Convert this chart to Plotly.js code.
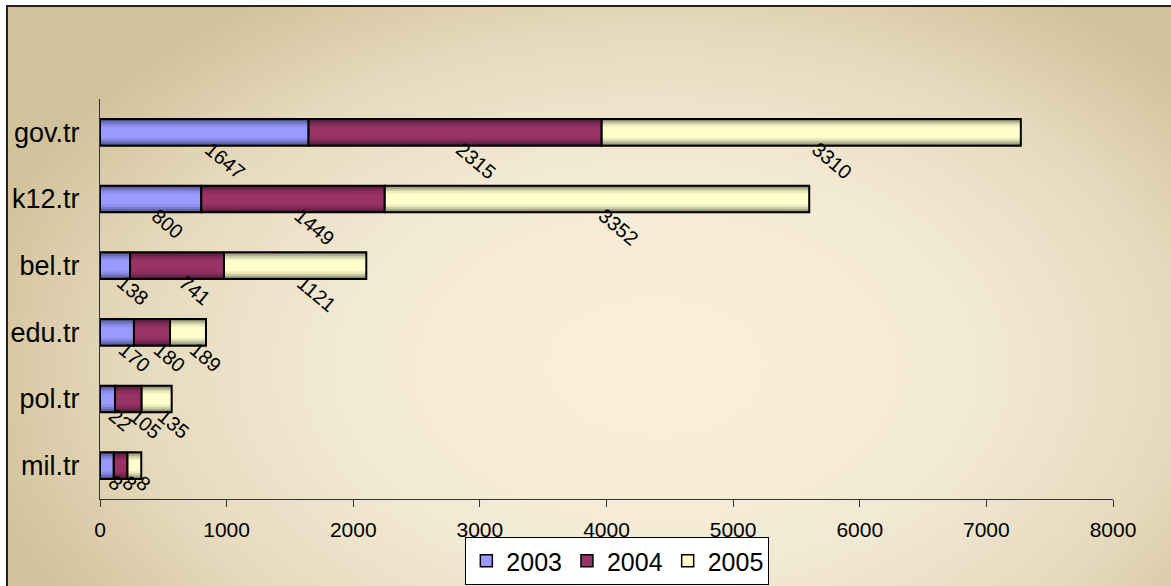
<!DOCTYPE html>
<html>
<head>
<meta charset="utf-8">
<script src="https://cdn.plot.ly/plotly-3.0.1.min.js"></script>
<style>
  html, body { margin: 0; padding: 0; background: #ffffff; overflow: hidden; }
  #wrap { position: relative; width: 1171px; height: 586px; overflow: hidden; background: #fff; }
  #bg {
    position: absolute; left: 6px; top: 5px; width: 1200px; height: 620px;
    border-left: 2px solid #222; border-top: 2px solid #222;
    background: radial-gradient(ellipse 58% 72% at 54% 58%, #fbefd9 0%, #f3ead6 45%, #e6dabd 75%, #d2c29c 100%);
  }
  #chart { position: absolute; left: 0; top: 0; width: 1171px; height: 586px; }
</style>
</head>
<body>
<div id="wrap">
  <div id="bg"></div>
  <div id="chart"></div>
</div>
<script>
// ---- data ----
const categories = ['gov.tr', 'k12.tr', 'bel.tr', 'edu.tr', 'pol.tr', 'mil.tr'];
const seriesNames = ['2003', '2004', '2005'];
// drawn bar lengths
const v2003 = [1647, 800, 238, 268, 119, 109];
const v2004 = [2315, 1449, 741, 285, 210, 108];
const v2005 = [3310, 3352, 1124, 284, 237, 109];
// data labels as printed on the chart
const lab2003 = ['1647', '800', '138', '170', '22', '8'];
const lab2004 = ['2315', '1449', '741', '180', '105', '8'];
const lab2005 = ['3310', '3352', '1121', '189', '135', '8'];
const xTickVals = [0, 1000, 2000, 3000, 4000, 5000, 6000, 7000, 8000];

// ---- styling ----
const baseColors = [[153, 153, 255], [153, 51, 102], [255, 255, 204]];
const layerWidths = [0.40, 0.35, 0.30, 0.24, 0.17];
const layerFactors = [0.50, 0.66, 0.80, 0.92, 1.00];
const FONT = 'Liberation Sans, Arial, sans-serif';

function rgb(c, f) {
  return 'rgb(' + c.map(v => Math.round(v * f)).join(',') + ')';
}

const values = [v2003, v2004, v2005];
const labels = [lab2003, lab2004, lab2005];

// cumulative bases
const bases = values.map((vals, s) =>
  vals.map((_, i) => values.slice(0, s).reduce((acc, arr) => acc + arr[i], 0)));

const traces = [];
// legend-only entries
seriesNames.forEach((name, s) => {
  traces.push({
    type: 'bar', orientation: 'h', x: [null], y: [categories[0]], name: name,
    marker: { color: rgb(baseColors[s], 1), line: { color: '#000', width: 1.5 } },
    showlegend: true, hoverinfo: 'skip', legendgroup: name
  });
});
// shaded bars
seriesNames.forEach((name, s) => {
  layerWidths.forEach((w, k) => {
    traces.push({
      type: 'bar', orientation: 'h', x: values[s], y: categories, base: bases[s],
      width: w, name: name, legendgroup: name, showlegend: false,
      marker: { color: rgb(baseColors[s], layerFactors[k]), line: { width: 0 } },
      hoverinfo: 'skip'
    });
  });
  // outline on top
  traces.push({
    type: 'bar', orientation: 'h', x: values[s], y: categories, base: bases[s],
    width: layerWidths[0], name: name, legendgroup: name, showlegend: false,
    marker: { color: 'rgba(0,0,0,0)', line: { color: '#000', width: 2 } },
    hoverinfo: 'skip'
  });
});

// rotated data labels
const LFS = 20, ANG = 40, rad = ANG * Math.PI / 180;
const annotations = [];
seriesNames.forEach((name, s) => {
  categories.forEach((cat, i) => {
    const txt = labels[s][i];
    const L = 0.556 * LFS * txt.length;
    const h = 0.716 * LFS;
    const dx = (L / 2) * Math.cos(rad) - (h / 2) * Math.sin(rad);
    const dy = (L / 2) * Math.sin(rad) + (h / 2) * Math.cos(rad);
    annotations.push({
      x: bases[s][i] + values[s][i] / 2, y: cat, xref: 'x', yref: 'y',
      text: txt, showarrow: false, textangle: ANG,
      xanchor: 'center', yanchor: 'middle',
      xshift: dx + 9, yshift: -(13.5 + dy) + 5,
      font: { family: FONT, size: LFS, color: '#000' }
    });
  });
});

const layout = {
  width: 1171, height: 586,
  paper_bgcolor: 'rgba(0,0,0,0)', plot_bgcolor: 'rgba(0,0,0,0)',
  margin: { l: 100, r: 58, t: 99, b: 87 },
  barmode: 'overlay',
  font: { family: FONT, color: '#000' },
  xaxis: {
    range: [0, 8000], tickvals: xTickVals, ticktext: xTickVals.map(String),
    ticks: 'outside', ticklen: 7, tickwidth: 1, tickcolor: '#333',
    showline: true, linecolor: '#333', linewidth: 1,
    showgrid: false, zeroline: false, ticklabelstandoff: 5,
    tickfont: { family: FONT, size: 21, color: '#000' },
    automargin: false, fixedrange: true
  },
  yaxis: {
    type: 'category', categoryorder: 'array', categoryarray: categories,
    range: [5.5, -0.5],
    ticks: '', showline: true, linecolor: '#333', linewidth: 1,
    showgrid: false, zeroline: false, ticklabelstandoff: 14,
    tickfont: { family: FONT, size: 27, color: '#000' },
    automargin: false, fixedrange: true
  },
  legend: {
    orientation: 'h', x: 0.5107, xanchor: 'center', xref: 'paper',
    y: 49 / 586, yanchor: 'top', yref: 'container',
    bgcolor: '#ffffff', bordercolor: '#000', borderwidth: 1,
    font: { family: FONT, size: 25, color: '#000' },
    traceorder: 'normal', itemclick: false, itemdoubleclick: false
  },
  annotations: annotations,
  showlegend: true
};

Plotly.newPlot('chart', traces, layout, { displayModeBar: false, staticPlot: true });
</script>
</body>
</html>
